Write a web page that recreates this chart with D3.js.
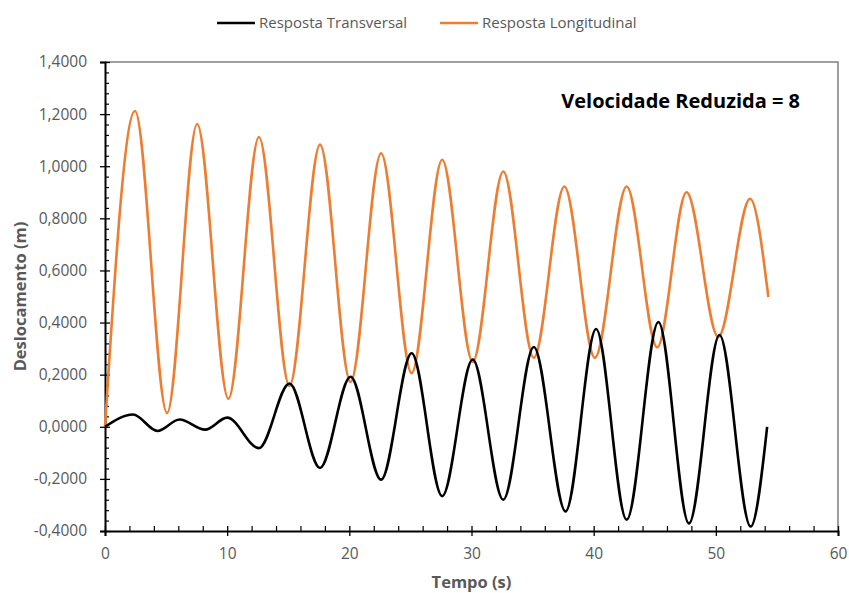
<!DOCTYPE html>
<html>
<head>
<meta charset="utf-8">
<script src="https://cdn.jsdelivr.net/npm/d3@7"></script>
<style>
  html, body { margin: 0; padding: 0; background: #fff; }
  svg { display: block; }
  text { font-family: "Open Sans", sans-serif; }
</style>
</head>
<body>
<svg id="chart" width="849" height="593"></svg>
<script>
// ---- Data (extrema of each response) ----
const longTime  = [0, 2.46, 5.08, 7.54, 10.1, 12.6, 15.1, 17.6, 20.1, 22.6, 25.1, 27.6, 30.1, 32.6, 35.1, 37.6, 40.1, 42.7, 45.2, 47.6, 50.2, 52.8, 54.3];
const longValue = [0, 1.212, 0.053, 1.162, 0.107, 1.112, 0.157, 1.083, 0.172, 1.05, 0.206, 1.025, 0.249, 0.98, 0.265, 0.922, 0.265, 0.922, 0.305, 0.9, 0.345, 0.875, 0.498];

const transTime  = [0, 2.3, 4.3, 6.1, 8.2, 10.0, 12.6, 15.1, 17.6, 20.1, 22.6, 25.1, 27.6, 30.1, 32.6, 35.1, 37.7, 40.2, 42.7, 45.3, 47.8, 50.3, 52.85, 54.2];
const transValue = [0, 0.047, -0.016, 0.028, -0.011, 0.035, -0.082, 0.166, -0.158, 0.192, -0.203, 0.282, -0.266, 0.258, -0.28, 0.306, -0.325, 0.375, -0.357, 0.402, -0.371, 0.352, -0.383, 0.0];

const seriesNames = ["Resposta Transversal", "Resposta Longitudinal"];
const xTicks = [0, 10, 20, 30, 40, 50, 60];
const yTicks = [-0.4, -0.2, 0, 0.2, 0.4, 0.6, 0.8, 1.0, 1.2, 1.4];
const xTitle = "Tempo (s)";
const yTitle = "Deslocamento (m)";
const annotation = "Velocidade Reduzida = 8";

// ---- Layout ----
const W = 849, H = 593;
const margin = { left: 105, right: 11, top: 62, bottom: 62 };
const svg = d3.select("#chart");
svg.append("rect").attr("width", W).attr("height", H).attr("fill", "#fff");

const x = d3.scaleLinear().domain([0, 60]).range([margin.left, W - margin.right]);
const y = d3.scaleLinear().domain([-0.4, 1.4]).range([H - margin.bottom, margin.top]);

const locale = d3.formatLocale({ decimal: ",", thousands: ".", grouping: [3], currency: ["", ""], minus: "-" });
const fmtY = locale.format(".4f");

const labelColor = "#595959";

// plot frame (top & right, grey)
svg.append("path")
  .attr("d", `M${x(0)},${y(1.4)}H${x(60)}V${y(-0.4)}`)
  .attr("fill", "none").attr("stroke", "#808080").attr("stroke-width", 1.5);

// minor ticks
const xMinor = d3.range(0, 61, 2).filter(v => v % 10 !== 0);
const yMinor = d3.range(-0.4, 1.4001, 0.04).filter(v => Math.abs(Math.round(v * 100) % 20) > 0.5);

const gX = svg.append("g").attr("transform", `translate(0,${y(-0.4)})`);
gX.call(d3.axisBottom(x).tickValues(xTicks).tickSize(5).tickPadding(12).tickFormat(d3.format("d")));
gX.selectAll(".tick line").attr("y1", -5).attr("y2", 5).attr("stroke", "#000").attr("stroke-width", 1.3);
gX.select(".domain").attr("stroke", "#000").attr("stroke-width", 2);
gX.selectAll(".tick text").attr("fill", labelColor).style("font-size", "15.5px").style("font-family", "'Open Sans', sans-serif");

const gXm = svg.append("g").attr("transform", `translate(0,${y(-0.4)})`);
gXm.call(d3.axisBottom(x).tickValues(xMinor).tickSize(-5).tickFormat(""));
gXm.select(".domain").remove();
gXm.selectAll(".tick line").attr("stroke", "#000").attr("stroke-width", 1.2);

const gY = svg.append("g").attr("transform", `translate(${x(0)},0)`);
gY.call(d3.axisLeft(y).tickValues(yTicks).tickSize(5).tickPadding(13).tickFormat(fmtY));
gY.selectAll(".tick line").attr("x1", -5).attr("x2", 5).attr("stroke", "#000").attr("stroke-width", 1.3);
gY.select(".domain").attr("stroke", "#000").attr("stroke-width", 2);
gY.selectAll(".tick text").attr("fill", labelColor).style("font-size", "15.5px").style("font-family", "'Open Sans', sans-serif");

const gYm = svg.append("g").attr("transform", `translate(${x(0)},0)`);
gYm.call(d3.axisLeft(y).tickValues(yMinor).tickSize(-4).tickFormat(""));
gYm.select(".domain").remove();
gYm.selectAll(".tick line").attr("stroke", "#000").attr("stroke-width", 1.2);

// lines
const line = d3.line().x(d => x(d[0])).y(d => y(d[1])).curve(d3.curveMonotoneX);
const transData = transTime.map((t, i) => [t, transValue[i]]);
const longData = longTime.map((t, i) => [t, longValue[i]]);

svg.append("path").datum(longData).attr("d", line)
  .attr("fill", "none").attr("stroke", "#ED7D31").attr("stroke-width", 2.6).attr("stroke-linejoin", "round");
svg.append("path").datum(transData).attr("d", line)
  .attr("fill", "none").attr("stroke", "#000").attr("stroke-width", 2.6).attr("stroke-linejoin", "round");

// axis titles
svg.append("text").attr("x", (x(0) + x(60)) / 2).attr("y", 588)
  .attr("text-anchor", "middle").attr("fill", labelColor)
  .style("font-size", "16.5px").style("font-weight", "bold").text(xTitle);
svg.append("text")
  .attr("transform", `translate(26,${(y(1.4) + y(-0.4)) / 2}) rotate(-90)`)
  .attr("text-anchor", "middle").attr("fill", labelColor)
  .style("font-size", "16.5px").style("font-weight", "bold").text(yTitle);

// annotation
svg.append("text").attr("x", 800).attr("y", 108).attr("text-anchor", "end")
  .attr("fill", "#000").style("font-size", "20px").style("font-weight", "bold").text(annotation);

// legend
const legendColors = ["#000", "#ED7D31"];
const legendX = [217, 440];
seriesNames.forEach((name, i) => {
  const g = svg.append("g").attr("transform", `translate(${legendX[i]},23)`);
  g.append("line").attr("x1", 0).attr("x2", 38).attr("y1", 0).attr("y2", 0)
    .attr("stroke", legendColors[i]).attr("stroke-width", 2.6);
  g.append("text").attr("x", 42).attr("y", 0).attr("dy", "0.35em")
    .attr("fill", labelColor).style("font-size", "15px").text(name);
});
</script>
</body>
</html>
